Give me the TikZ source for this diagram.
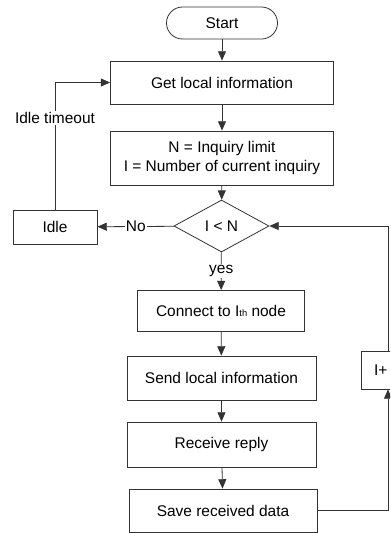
\documentclass[tikz,border=0pt]{standalone}
\usepackage{fontspec}
\setmainfont{Liberation Sans}
\usetikzlibrary{shapes.geometric,arrows.meta}
\def\px{0.75pt}
\begin{document}
\begin{tikzpicture}[>={Triangle[length=7pt,width=6pt]}, x=0.75pt, y=-0.75pt,
	font=\fontsize{11.6}{14.3}\selectfont, line width=0.6pt,
	box/.style={draw=black!80, rectangle, align=center, inner sep=0pt},
	term/.style={box, rounded corners=12pt},
	cond/.style={draw=black!80, diamond, inner sep=0pt},
	conn/.style={draw=black!80, ->},
	lbl/.style={fill=white, inner sep=1pt}]
	\useasboundingbox (0,0) rectangle (390,533);
	\clip (0,0) rectangle (390,533);
	% main column
	\node[term, minimum width=111*\px, minimum height=32*\px] (start) at (222,23) {Start};
	\node[box, minimum width=223*\px, minimum height=43*\px] (getinfo) at (222,82.5) {Get local information};
	\node[box, minimum width=223*\px, minimum height=54*\px] (setvars) at (222,158) {N = Inquiry limit\\I = Number of current inquiry};
	\node[cond, minimum width=95*\px, minimum height=52*\px] (check) at (221.5,226) {I {\textless} N};
	\node[box, minimum width=84*\px, minimum height=34*\px] (idle) at (55,227) {Idle};
	\node[box, minimum width=167*\px, minimum height=41*\px] (connect) at (221,311) {Connect to I{\scriptsize th} node};
	\node[box, minimum width=189*\px, minimum height=44*\px] (send) at (221.5,378) {Send local information};
	\node[box, minimum width=189*\px, minimum height=45*\px] (receive) at (221.5,444.5) {Receive reply};
	\node[box, minimum width=188*\px, minimum height=43*\px] (save) at (223,510.5) {Save received data};
	% counter box, cut by the right edge
	\node[box, align=left, text width=28*\px, inner xsep=13*\px, minimum height=38*\px] (incr) at (388,370) {I+};
	% connectors
	\draw[conn] (start) -- (getinfo);
	\draw[conn] (getinfo) -- (setvars);
	\draw[conn] (setvars) -- (check);
	\draw[conn] (check) -- node[lbl]{No} (idle);
	\draw[conn] (check) -- node[lbl]{yes} (connect);
	\draw[conn] (idle) |- node[lbl, pos=0.36]{Idle timeout} (getinfo);
	\draw[conn] (connect) -- (send);
	\draw[conn] (send) -- (receive);
	\draw[conn] (receive) -- (save);
	\draw[conn] (save) -| (incr);
	\draw[conn] (incr) |- (check);
\end{tikzpicture}
\end{document}
